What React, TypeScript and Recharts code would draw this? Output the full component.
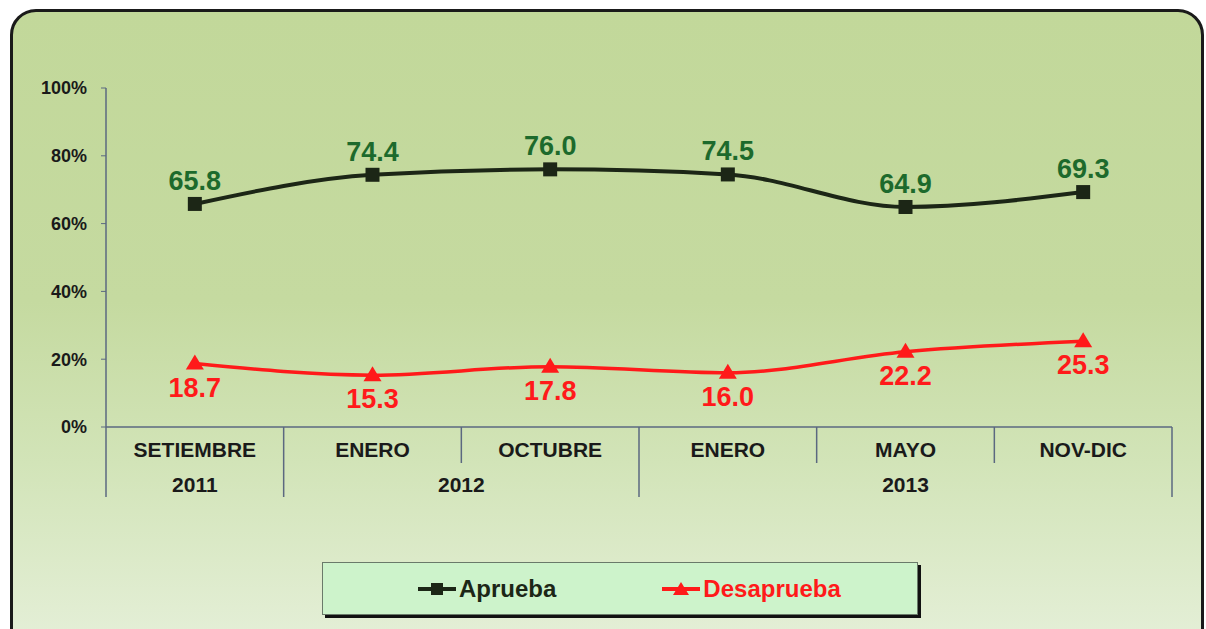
import { LineChart, Line, XAxis, YAxis, LabelList, Legend } from 'recharts';

const months = ['SETIEMBRE', 'ENERO', 'OCTUBRE', 'ENERO', 'MAYO', 'NOV-DIC'];
const years = ['2011', '2012', '2012', '2013', '2013', '2013'];
const aprueba = [65.8, 74.4, 76.0, 74.5, 64.9, 69.3];
const desaprueba = [18.7, 15.3, 17.8, 16.0, 22.2, 25.3];
const yTicks = [0, 20, 40, 60, 80, 100];

const data = months.map((m, i) => ({
  month: m,
  year: years[i],
  aprueba: aprueba[i],
  desaprueba: desaprueba[i],
}));

const W = 1206;
const H = 629;
const MARGIN = { top: 88, right: 34, left: 46, bottom: 132 };
const Y_WIDTH = 60;
const PLOT_W = W - MARGIN.left - MARGIN.right - Y_WIDTH;
const BAND = PLOT_W / months.length;

const AXIS = '#5b6880';
const DARK = '#1c2616';
const RED = '#ff1a1a';
const GREEN_TXT = '#1d6a2c';
const FONT = '"Liberation Sans", Arial, sans-serif';

function CategoryTick(props: any) {
  const { x, y, payload, index } = props;
  const left = x - BAND / 2;
  const right = x + BAND / 2;
  const yr = years[index];
  const first = index === 0 || years[index - 1] !== yr;
  const last = index === years.length - 1 || years[index + 1] !== yr;
  let span = 0;
  if (first) {
    let j = index;
    while (j < years.length && years[j] === yr) j++;
    span = j - index;
  }
  return (
    <g>
      {index === 0 && <line x1={left} y1={y} x2={left} y2={y + 70} stroke={AXIS} strokeWidth={1.5} />}
      <line x1={right} y1={y} x2={right} y2={last ? y + 70 : y + 36} stroke={AXIS} strokeWidth={1.5} />
      <text x={x} y={y + 30} textAnchor="middle" fontFamily={FONT} fontWeight="bold" fontSize={21} fill="#1a1a1a">
        {payload.value}
      </text>
      {first && (
        <text x={left + (span * BAND) / 2} y={y + 65} textAnchor="middle" fontFamily={FONT} fontWeight="bold" fontSize={21} fill="#1a1a1a">
          {yr}
        </text>
      )}
    </g>
  );
}

function SquareDot(props: any) {
  const { cx, cy } = props;
  if (cx == null || cy == null) return null;
  return <rect x={cx - 7} y={cy - 7} width={14} height={14} fill={DARK} />;
}

function TriangleDot(props: any) {
  const { cx, cy } = props;
  if (cx == null || cy == null) return null;
  return <path d={`M${cx},${cy - 9} L${cx + 9},${cy + 6} L${cx - 9},${cy + 6} Z`} fill={RED} />;
}

function LegendBox() {
  const item = (label: string, color: string, marker: 'square' | 'tri') => (
    <div style={{ display: 'flex', alignItems: 'center' }}>
      <svg width={38} height={16}>
        <line x1={0} y1={8} x2={38} y2={8} stroke={color} strokeWidth={4} />
        {marker === 'square' ? (
          <rect x={13} y={2} width={12} height={12} fill={color} />
        ) : (
          <path d="M19,1 L27,14 L11,14 Z" fill={color} />
        )}
      </svg>
      <span style={{ color, fontFamily: FONT, fontWeight: 'bold', fontSize: 24, marginLeft: 3 }}>{label}</span>
    </div>
  );
  return (
    <div
      style={{
        width: 596,
        height: 53,
        background: '#cdf3cb',
        border: '1px solid #6a7a6a',
        boxShadow: '3px 3px 0 #111',
        display: 'flex',
        alignItems: 'center',
        justifyContent: 'flex-start',
        paddingLeft: 95,
        gap: 106,
        boxSizing: 'border-box',
      }}
    >
      {item('Aprueba', DARK, 'square')}
      {item('Desaprueba', RED, 'tri')}
    </div>
  );
}

export default function App() {
  return (
    <div style={{ position: 'absolute', left: 0, top: 0, width: W, height: H, background: '#fff', overflow: 'hidden' }}>
      <div
        style={{
          position: 'absolute',
          left: 10,
          top: 9,
          width: 1194,
          height: 650,
          border: '3px solid #1a1a1a',
          borderRadius: 26,
          boxSizing: 'border-box',
          background: 'linear-gradient(180deg, #c2d89a 0%, #c5daa0 45%, #d2e4b8 70%, #e6f0da 100%)',
        }}
      />
      <div style={{ position: 'absolute', left: 0, top: 0 }}>
        <LineChart width={W} height={H} data={data} margin={MARGIN}>
          <XAxis
            dataKey="month"
            height={70}
            interval={0}
            padding={{ left: BAND / 2, right: BAND / 2 }}
            tickLine={false}
            tickSize={0}
            tickMargin={0}
            axisLine={{ stroke: AXIS, strokeWidth: 1.5 }}
            tick={<CategoryTick />}
          />
          <YAxis
            width={Y_WIDTH}
            domain={[0, 100]}
            ticks={yTicks}
            tickFormatter={(v: number) => `${v}%`}
            axisLine={{ stroke: AXIS, strokeWidth: 1.5 }}
            tickLine={{ stroke: AXIS }}
            tickSize={5}
            tickMargin={14}
            tick={{ fontFamily: FONT, fontWeight: 'bold', fontSize: 18, fill: '#1a1a1a' }}
          />
          <Line
            type="monotone"
            dataKey="aprueba"
            name="Aprueba"
            stroke={DARK}
            strokeWidth={4}
            dot={<SquareDot />}
            activeDot={false}
            isAnimationActive={false}
          >
            <LabelList
              dataKey="aprueba"
              position="top"
              offset={14}
              formatter={(v: any) => Number(v).toFixed(1)}
              style={{ fontFamily: FONT, fontWeight: 'bold', fontSize: 27, fill: GREEN_TXT }}
            />
          </Line>
          <Line
            type="monotone"
            dataKey="desaprueba"
            name="Desaprueba"
            stroke={RED}
            strokeWidth={3.5}
            dot={<TriangleDot />}
            activeDot={false}
            isAnimationActive={false}
          >
            <LabelList
              dataKey="desaprueba"
              position="bottom"
              offset={14}
              formatter={(v: any) => Number(v).toFixed(1)}
              style={{ fontFamily: FONT, fontWeight: 'bold', fontSize: 27, fill: RED }}
            />
          </Line>
          <Legend
            layout="horizontal"
            verticalAlign="middle"
            align="center"
            content={() => <LegendBox />}
            wrapperStyle={{ left: 322, top: 562, width: 596, height: 53 }}
          />
        </LineChart>
      </div>
    </div>
  );
}
